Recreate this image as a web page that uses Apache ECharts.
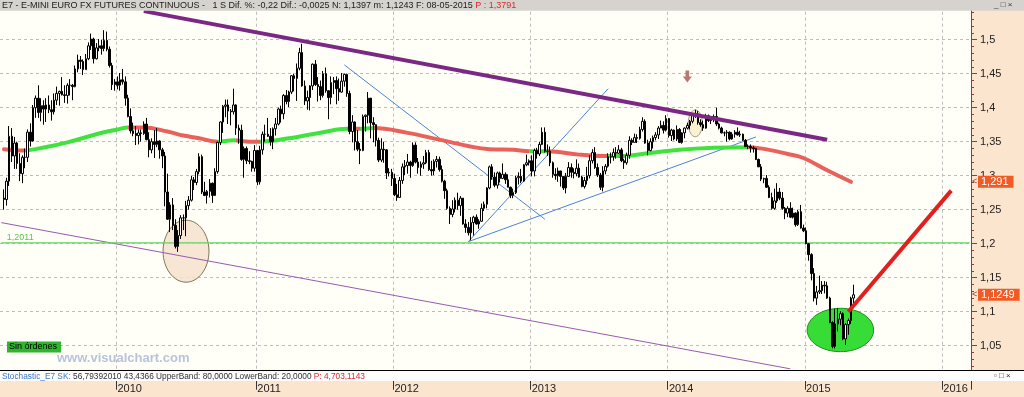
<!DOCTYPE html>
<html><head><meta charset="utf-8">
<script src="https://cdn.jsdelivr.net/npm/echarts/dist/echarts.min.js"></script>
<style>html,body{margin:0;padding:0;background:#fff}#c{width:1024px;height:397px}</style>
</head><body><div id="c"></div>
<script>
// ---- categories (weekly bars, Friday dates) ----
const startWeek = '2009-02-27';
const weekCount = 368;
const firstCandleDate = '2009-03-06';
const yearLabels = ['2010','2011','2012','2013','2014','2015','2016'];

// ---- weekly candles [open, close, low, high] ----
const candles2009 = [
[1.267,1.265,1.250,1.280],[1.265,1.292,1.256,1.297],[1.292,1.358,1.285,1.373],[1.358,1.329,1.320,1.370],
[1.329,1.348,1.310,1.357],[1.348,1.318,1.310,1.350],[1.318,1.303,1.292,1.333],[1.303,1.327,1.289,1.330],
[1.327,1.327,1.311,1.340],[1.327,1.364,1.320,1.368],[1.364,1.351,1.343,1.377],[1.351,1.400,1.350,1.404],[1.400,1.414,1.385,1.418],
[1.414,1.393,1.385,1.433],[1.393,1.403,1.380,1.414],[1.403,1.398,1.375,1.411],[1.398,1.404,1.379,1.414],
[1.404,1.397,1.392,1.418],[1.397,1.394,1.381,1.411],[1.394,1.411,1.390,1.421],[1.411,1.421,1.404,1.431],[1.421,1.424,1.403,1.425],
[1.424,1.419,1.418,1.445],[1.419,1.418,1.407,1.433],[1.418,1.433,1.406,1.436],[1.433,1.433,1.418,1.442],
[1.433,1.431,1.411,1.435],[1.431,1.457,1.430,1.462],[1.457,1.470,1.452,1.478],[1.470,1.468,1.457,1.476],
[1.468,1.456,1.448,1.471],[1.456,1.472,1.456,1.479],[1.472,1.491,1.470,1.496],[1.491,1.501,1.485,1.509],[1.501,1.472,1.465,1.503],
[1.472,1.488,1.471,1.495],[1.488,1.491,1.483,1.501],[1.491,1.487,1.478,1.500],[1.487,1.499,1.483,1.514],
[1.499,1.486,1.483,1.512],[1.486,1.462,1.459,1.490],[1.462,1.434,1.426,1.466],[1.434,1.438,1.425,1.442]
];
const candles2010 = [
[1.438,1.433,1.427,1.446],[1.433,1.441,1.425,1.451],[1.441,1.438,1.434,1.457],[1.438,1.414,1.403,1.446],[1.414,1.387,1.386,1.419],
[1.387,1.366,1.362,1.399],[1.366,1.362,1.358,1.378],[1.362,1.359,1.345,1.373],[1.359,1.363,1.346,1.368],
[1.363,1.362,1.350,1.368],[1.362,1.376,1.360,1.380],[1.376,1.353,1.352,1.385],[1.353,1.338,1.327,1.364],
[1.338,1.350,1.333,1.355],[1.350,1.346,1.326,1.367],[1.346,1.351,1.342,1.370],[1.351,1.338,1.325,1.352],[1.338,1.329,1.311,1.341],
[1.329,1.276,1.255,1.335],[1.276,1.236,1.235,1.303],[1.236,1.257,1.217,1.261],[1.257,1.227,1.220,1.267],
[1.227,1.196,1.193,1.236],[1.196,1.212,1.188,1.220],[1.212,1.238,1.207,1.242],[1.238,1.238,1.220,1.243],
[1.238,1.256,1.211,1.263],[1.256,1.264,1.250,1.270],[1.264,1.294,1.262,1.300],[1.294,1.290,1.279,1.298],[1.290,1.306,1.286,1.310],
[1.306,1.328,1.302,1.333],[1.328,1.276,1.273,1.331],[1.276,1.271,1.270,1.291],[1.271,1.277,1.259,1.279],
[1.277,1.289,1.268,1.295],[1.289,1.271,1.260,1.290],[1.271,1.306,1.270,1.311],[1.306,1.349,1.303,1.350],
[1.349,1.379,1.345,1.380],[1.379,1.402,1.363,1.404],[1.402,1.404,1.386,1.412],[1.404,1.395,1.376,1.412],[1.395,1.394,1.374,1.398],
[1.394,1.404,1.390,1.428],[1.404,1.370,1.360,1.405],[1.370,1.367,1.347,1.375],[1.367,1.324,1.322,1.375],
[1.324,1.340,1.297,1.343],[1.340,1.322,1.317,1.343],[1.322,1.321,1.317,1.336],[1.321,1.311,1.306,1.322],[1.311,1.337,1.306,1.345]
];
const candles2011 = [
[1.337,1.291,1.286,1.338],[1.291,1.338,1.287,1.344],[1.338,1.361,1.331,1.365],[1.361,1.361,1.350,1.375],
[1.361,1.358,1.357,1.385],[1.358,1.350,1.344,1.370],[1.350,1.369,1.339,1.371],[1.369,1.376,1.359,1.385],
[1.376,1.398,1.374,1.400],[1.398,1.391,1.378,1.403],[1.391,1.418,1.383,1.420],[1.418,1.409,1.405,1.426],
[1.409,1.423,1.401,1.425],[1.423,1.447,1.420,1.448],[1.447,1.443,1.424,1.450],[1.443,1.458,1.410,1.465],[1.458,1.481,1.455,1.488],
[1.481,1.432,1.431,1.494],[1.432,1.410,1.404,1.440],[1.410,1.415,1.397,1.425],[1.415,1.432,1.396,1.433],
[1.432,1.464,1.426,1.465],[1.464,1.434,1.432,1.470],[1.434,1.431,1.409,1.445],[1.431,1.418,1.411,1.440],
[1.418,1.450,1.415,1.454],[1.450,1.425,1.422,1.459],[1.425,1.415,1.383,1.424],[1.415,1.437,1.405,1.446],[1.437,1.440,1.420,1.445],
[1.440,1.428,1.405,1.446],[1.428,1.423,1.410,1.443],[1.423,1.439,1.422,1.451],[1.439,1.449,1.431,1.450],
[1.449,1.421,1.416,1.450],[1.421,1.365,1.361,1.425],[1.365,1.379,1.349,1.389],[1.379,1.350,1.337,1.380],[1.350,1.339,1.336,1.367],
[1.339,1.337,1.317,1.348],[1.337,1.387,1.336,1.390],[1.387,1.389,1.365,1.390],[1.389,1.414,1.377,1.423],
[1.414,1.378,1.355,1.399],[1.378,1.375,1.349,1.386],[1.375,1.352,1.343,1.370],[1.352,1.323,1.320,1.356],
[1.323,1.339,1.320,1.355],[1.339,1.338,1.319,1.350],[1.338,1.304,1.295,1.339],[1.304,1.305,1.299,1.311],[1.305,1.296,1.285,1.310]
];
const candles2012 = [
[1.296,1.272,1.270,1.303],[1.272,1.268,1.263,1.288],[1.268,1.293,1.268,1.298],[1.293,1.313,1.288,1.318],
[1.313,1.315,1.301,1.323],[1.315,1.320,1.303,1.332],[1.320,1.315,1.297,1.322],[1.315,1.345,1.313,1.349],
[1.345,1.320,1.318,1.349],[1.320,1.312,1.303,1.326],[1.312,1.317,1.300,1.321],[1.317,1.319,1.310,1.329],[1.319,1.334,1.317,1.338],
[1.334,1.309,1.307,1.338],[1.309,1.307,1.300,1.322],[1.307,1.321,1.301,1.324],[1.321,1.324,1.312,1.329],
[1.324,1.309,1.306,1.328],[1.309,1.292,1.290,1.315],[1.292,1.278,1.266,1.294],[1.278,1.252,1.250,1.281],
[1.252,1.243,1.229,1.255],[1.243,1.251,1.239,1.264],[1.251,1.264,1.246,1.268],[1.264,1.256,1.250,1.275],[1.256,1.267,1.241,1.270],
[1.267,1.229,1.228,1.267],[1.229,1.224,1.216,1.236],[1.224,1.216,1.212,1.232],[1.216,1.231,1.205,1.239],
[1.231,1.239,1.212,1.241],[1.239,1.229,1.228,1.243],[1.229,1.233,1.222,1.236],[1.233,1.252,1.232,1.259],[1.252,1.258,1.248,1.262],
[1.258,1.282,1.252,1.283],[1.282,1.313,1.280,1.315],[1.313,1.298,1.294,1.317],[1.298,1.286,1.283,1.305],
[1.286,1.304,1.281,1.306],[1.304,1.296,1.290,1.306],[1.296,1.302,1.295,1.318],[1.302,1.294,1.288,1.305],
[1.294,1.283,1.283,1.302],[1.283,1.271,1.267,1.284],[1.271,1.275,1.267,1.281],[1.275,1.297,1.273,1.300],[1.297,1.299,1.287,1.305],
[1.299,1.292,1.289,1.310],[1.292,1.316,1.291,1.317],[1.316,1.319,1.314,1.331],[1.319,1.322,1.315,1.324]
];
const candles2013 = [
[1.322,1.307,1.299,1.330],[1.307,1.337,1.299,1.340],[1.337,1.332,1.325,1.341],[1.332,1.346,1.329,1.350],
[1.346,1.364,1.345,1.371],[1.364,1.336,1.334,1.371],[1.336,1.336,1.329,1.346],[1.336,1.319,1.314,1.343],
[1.319,1.302,1.297,1.321],[1.302,1.300,1.294,1.311],[1.300,1.307,1.291,1.312],[1.307,1.299,1.284,1.305],[1.299,1.282,1.279,1.299],
[1.282,1.299,1.274,1.304],[1.299,1.312,1.299,1.320],[1.312,1.305,1.297,1.318],[1.305,1.303,1.296,1.311],
[1.303,1.311,1.299,1.324],[1.311,1.298,1.297,1.318],[1.298,1.284,1.283,1.300],[1.284,1.293,1.281,1.298],[1.293,1.300,1.287,1.313],
[1.300,1.322,1.296,1.330],[1.322,1.334,1.318,1.339],[1.334,1.312,1.310,1.342],[1.312,1.301,1.298,1.318],
[1.301,1.283,1.279,1.304],[1.283,1.307,1.277,1.314],[1.307,1.314,1.302,1.317],[1.314,1.328,1.312,1.333],
[1.328,1.328,1.318,1.334],[1.328,1.334,1.322,1.340],[1.334,1.333,1.325,1.342],[1.333,1.338,1.332,1.345],[1.338,1.322,1.320,1.341],
[1.322,1.319,1.310,1.325],[1.319,1.330,1.316,1.334],[1.330,1.352,1.325,1.358],[1.352,1.349,1.345,1.355],
[1.349,1.356,1.349,1.362],[1.356,1.355,1.348,1.361],[1.355,1.368,1.353,1.372],[1.368,1.380,1.365,1.386],
[1.380,1.348,1.347,1.383],[1.348,1.337,1.330,1.353],[1.337,1.350,1.336,1.355],[1.350,1.356,1.340,1.359],[1.356,1.360,1.352,1.364],
[1.360,1.370,1.354,1.373],[1.370,1.374,1.370,1.381],[1.374,1.367,1.362,1.380],[1.367,1.384,1.365,1.389]
];
const candles2014 = [
[1.384,1.359,1.356,1.385],[1.359,1.367,1.351,1.369],[1.367,1.354,1.352,1.368],[1.354,1.368,1.351,1.374],[1.368,1.349,1.348,1.370],
[1.349,1.363,1.347,1.364],[1.363,1.370,1.355,1.371],[1.370,1.374,1.368,1.378],[1.374,1.380,1.368,1.382],
[1.380,1.391,1.377,1.392],[1.391,1.391,1.385,1.397],[1.391,1.378,1.375,1.395],[1.378,1.375,1.372,1.383],
[1.375,1.370,1.366,1.381],[1.370,1.388,1.369,1.391],[1.388,1.381,1.379,1.390],[1.381,1.383,1.376,1.387],
[1.383,1.387,1.379,1.390],[1.387,1.376,1.373,1.400],[1.376,1.370,1.368,1.378],[1.370,1.363,1.362,1.372],[1.363,1.363,1.358,1.365],
[1.363,1.364,1.350,1.367],[1.364,1.354,1.352,1.365],[1.354,1.361,1.353,1.364],[1.361,1.364,1.356,1.367],
[1.364,1.360,1.359,1.371],[1.360,1.361,1.357,1.366],[1.361,1.352,1.351,1.362],[1.352,1.343,1.342,1.354],
[1.343,1.343,1.339,1.346],[1.343,1.341,1.334,1.346],[1.341,1.340,1.334,1.344],[1.340,1.324,1.323,1.341],[1.324,1.313,1.313,1.325],
[1.313,1.295,1.292,1.317],[1.295,1.296,1.289,1.297],[1.296,1.283,1.282,1.301],[1.283,1.268,1.267,1.286],
[1.268,1.252,1.250,1.275],[1.252,1.263,1.250,1.281],[1.263,1.276,1.260,1.289],[1.276,1.267,1.264,1.282],[1.267,1.252,1.250,1.276],
[1.252,1.245,1.236,1.254],[1.245,1.252,1.239,1.255],[1.252,1.239,1.238,1.261],[1.239,1.245,1.237,1.253],
[1.245,1.228,1.225,1.246],[1.228,1.247,1.226,1.250],[1.247,1.223,1.222,1.257],[1.223,1.219,1.217,1.228]
];
const candles2015 = [
[1.219,1.200,1.199,1.224],[1.200,1.184,1.175,1.201],[1.184,1.156,1.146,1.186],[1.156,1.120,1.115,1.164],[1.120,1.129,1.110,1.138],
[1.129,1.131,1.126,1.153],[1.131,1.139,1.126,1.145],[1.139,1.138,1.127,1.145],[1.138,1.120,1.119,1.144],
[1.120,1.084,1.083,1.122],[1.084,1.049,1.046,1.086],[1.049,1.082,1.046,1.104],[1.082,1.089,1.071,1.105],
[1.089,1.097,1.080,1.101],[1.097,1.060,1.058,1.099],[1.060,1.081,1.051,1.083],[1.081,1.087,1.066,1.090],
[1.087,1.120,1.082,1.122],[1.120,1.1249,1.108,1.1397]
];

// ---- moving average trace [week index, value] and its up/down colour breaks ----
const maPoints = [
[1,1.339],[8,1.337],[18,1.343],[25,1.349],[37,1.362],[44,1.368],[48,1.371],[54,1.371],[63,1.365],[69,1.359],
[75,1.355],[82,1.350],[88,1.352],[94,1.350],[98,1.350],[109,1.355],[122,1.364],[131,1.369],[136,1.369],[141,1.370],
[154,1.363],[166,1.353],[179,1.342],[185,1.339],[194,1.338],[200,1.336],[207,1.336],[219,1.331],[229,1.329],[236,1.329],
[245,1.333],[257,1.338],[270,1.341],[283,1.342],[291,1.338],[298,1.332],[304,1.326],[313,1.308],[322,1.291]
];
const maTrendBreaks = [8.5,48,82,89.3,98,131,136,141,200.4,207,230,234,236,283];

// ---- drawn annotations (data coordinates: week index, price) ----
const levelLine = 1.2011;
const levelSpan = [0, 367];
const upperTrend = [[54,1.542],[313,1.353]];
const lowerTrend = [[0,1.231],[299,1.016]];
const blueLines = [
  [[130,1.463],[206,1.236]],
  [[177,1.203],[230,1.428]],
  [[177,1.203],[286,1.357]]
];
const targetLine = [[321,1.100],[360,1.278]];
// [centre index, centre price, x radius in weeks, y radius in price, kind]
const ellipses = [
  [69.6,1.189,8.7,0.0456,'peach'],
  [262.9,1.377,2.65,0.0198,'light'],
  [317.8,1.0731,12.6,0.0319,'green']
];
const arrowMark = [[260,1.446]];

// ---------------------------------------------------------------
const categories = [];
for (let i = 0; i < weekCount; i++) {
  const d = new Date(Date.UTC(2009, 1, 27 + 7 * i));
  categories.push(d.toISOString().slice(0, 10));
}
const candleData = categories.map(() => '-');
const blocks = [[firstCandleDate, candles2009],['2010-01-01', candles2010],['2011-01-01', candles2011],
  ['2012-01-01', candles2012],['2013-01-01', candles2013],['2014-01-01', candles2014],['2015-01-01', candles2015]];
blocks.forEach(([d0, rows]) => {
  const s = categories.findIndex(c => c >= d0);
  rows.forEach((r, k) => { candleData[s + k] = r; });
});
const lastCandle = candles2015[candles2015.length - 1];

const isYearStart = (idx, val) => {
  if (idx === 0) return false;
  const y = String(val).slice(0, 4);
  return y !== categories[idx - 1].slice(0, 4) && yearLabels.indexOf(y) >= 0;
};

const RED = '#e8625b', GREEN = '#3fe23f';
const maPieces = [];
let prev = null;
maTrendBreaks.concat([100000]).forEach((b, k) => {
  const p = { lt: b, color: k % 2 === 0 ? RED : GREEN };
  if (prev !== null) p.gte = prev;
  maPieces.push(p);
  prev = b;
});

const ellipseStyles = {
  peach: { fill: 'rgba(246,226,204,0.85)', stroke: '#7d7658', lineWidth: 1 },
  light: { fill: 'rgba(250,240,205,0.9)', stroke: '#9a9a8a', lineWidth: 1 },
  green: { fill: '#37dc37', stroke: '#1b8f1b', lineWidth: 1 }
};

const NARROW = '"Liberation Sans Narrow", "Liberation Sans", Arial, sans-serif';
const SANS = '"Liberation Sans", Arial, sans-serif';

const lineSeries = (data, color, width, z) => ({
  type: 'line', data: data, symbol: 'none', silent: true, z: z, animation: false,
  lineStyle: { color: color, width: width }
});

const levelData = levelSpan.map(i => [i, levelLine]);

const chart = echarts.init(document.getElementById('c'), null, { renderer: 'canvas' });
const option = {
  animation: false,
  backgroundColor: '#ffffff',
  grid: { left: 0, right: 53, top: 5.7, bottom: 17.3, containLabel: false, outerBoundsMode: 'none',
          show: true, backgroundColor: '#fffff8', borderWidth: 0 },
  xAxis: {
    type: 'category', data: categories, boundaryGap: true,
    axisLine: { show: false },
    axisTick: { show: true, interval: isYearStart, length: 10, lineStyle: { color: '#333', width: 1 } },
    axisLabel: { show: true, interval: isYearStart, formatter: v => v.slice(0, 4), align: 'left',
                 margin: 4, fontSize: 11, fontFamily: NARROW, color: '#222' },
    splitLine: { show: true, interval: isYearStart, lineStyle: { color: '#bdbdbd', type: [3, 3], width: 1 } }
  },
  yAxis: {
    type: 'value', position: 'right', min: 1.0, max: 1.55, interval: 0.05, scale: true,
    axisLine: { show: true, lineStyle: { color: '#8e3e36', width: 1 } },
    axisTick: { show: true, length: 6, lineStyle: { color: '#8e3e36' } },
    minorTick: { show: true, splitNumber: 5, length: 3, lineStyle: { color: '#8e3e36' } },
    axisLabel: { margin: 9, fontSize: 11, fontFamily: NARROW, color: '#222',
                 formatter: v => (v < 1.04 || v > 1.51) ? '' : String(+v.toFixed(2)).replace('.', ',') },
    splitLine: { show: true, lineStyle: { color: '#bdbdbd', type: [3, 3], width: 1 } }
  },
  visualMap: [{ type: 'piecewise', show: false, dimension: 0, seriesIndex: 5, pieces: maPieces }],
  series: [
    {
      type: 'custom', z: 1, silent: true, data: ellipses.map(e => e.slice(0, 4)),
      renderItem: (params, api) => {
        const c = api.coord([api.value(0), api.value(1)]);
        const bw = api.size([1, 0])[0];
        const ry = api.size([0, api.value(3)])[1];
        const kind = ellipses[params.dataIndex][4];
        return { type: 'ellipse', shape: { cx: c[0], cy: c[1], rx: bw * api.value(2), ry: ry },
                 style: ellipseStyles[kind] };
      }
    },
    lineSeries(lowerTrend, '#9a5aae', 1, 2),
    lineSeries(blueLines[0], '#4a84d6', 1, 2),
    lineSeries(blueLines[1], '#4a84d6', 1, 2),
    lineSeries(blueLines[2], '#4a84d6', 1, 2),
    { type: 'line', data: maPoints, symbol: 'none', smooth: 0.4, silent: true, z: 3,
      lineStyle: { width: 4, cap: 'round' } },
    {
      type: 'candlestick', data: candleData, z: 4, barWidth: 2, silent: true,
      itemStyle: { color: '#ffffff', color0: '#000000', borderColor: '#000000', borderColor0: '#000000', borderWidth: 1 }
    },
    lineSeries(upperTrend, '#7a2884', 4, 5),
    lineSeries(targetLine, '#e21f1f', 4, 5),
    { type: 'scatter', data: arrowMark, z: 5, silent: true,
      symbol: 'path://M3,0 L7,0 L7,6 L10,6 L5,12 L0,6 L3,6 Z', symbolSize: [9, 12],
      itemStyle: { color: '#a4574f' } },
    {
      type: 'line', data: levelData, symbol: 'none', silent: true, z: 3,
      lineStyle: { color: '#5fd35f', width: 1.3 },
      markPoint: {
        silent: true, symbol: 'rect', symbolSize: 1, itemStyle: { color: 'rgba(0,0,0,0)' },
        data: [{ coord: [levelSpan[0], levelLine] }],
        label: { show: true, position: [6, -9], formatter: String(levelLine).replace('.', ','),
                 color: '#55c855', fontSize: 9, fontFamily: SANS }
      }
    }
  ]
};
chart.setOption(option);

const fmt = v => String(v).replace('.', ',');
const maLast = maPoints[maPoints.length - 1][1];
const yMa = chart.convertToPixel({ yAxisIndex: 0 }, maLast);
const yLast = chart.convertToPixel({ yAxisIndex: 0 }, lastCandle[1]);

const priceBox = (id, y, txt) => ([
  { type: 'text', id: id + 'a', z: 60, x: 972, y: y, style: { text: '<', fill: '#8e3e36', font: '9px ' + SANS, verticalAlign: 'middle' } },
  { type: 'text', id: id, z: 60, x: 978, y: y, style: { text: txt, fill: '#ffffff', font: '11px ' + NARROW,
      backgroundColor: '#f05a24', padding: [1, 5, 0, 3], verticalAlign: 'middle' } }
]);

chart.setOption({
  graphic: { elements: [
    { type: 'rect', id: 'rpanel', z: -10, shape: { x: 971, y: 10, width: 53, height: 360 }, style: { fill: '#fce5cf' } },
    { type: 'rect', id: 'xpanel', z: -10, shape: { x: 0, y: 381, width: 1024, height: 16 }, style: { fill: '#fce5cf' } },
    { type: 'rect', id: 'header', z: 50, shape: { x: 0, y: 0, width: 1024, height: 10.7 }, style: { fill: '#d6d3ce' } },
    { type: 'text', id: 'htext', z: 51, x: 2, y: 1, style: {
        text: '{a|E7 - E-MINI EURO FX FUTURES CONTINUOUS -   1 S Dif. %: -0,22 Dif.: -0,0025 N: 1,1397 m: 1,1243 F: 08-05-2015 }{b|P : 1,3791}',
        font: '9px ' + SANS, verticalAlign: 'top',
        rich: { a: { fill: '#202020', fontSize: 9, fontFamily: SANS }, b: { fill: '#e02828', fontSize: 9, fontFamily: SANS } } } },
    { type: 'text', id: 'hbtn', z: 51, x: 994, y: 1, style: { text: '_ □ ×', fill: '#333', font: '8px ' + SANS, verticalAlign: 'top' } },
    { type: 'rect', id: 'srow', z: 50, shape: { x: 0, y: 370, width: 1024, height: 11 }, style: { fill: '#fdfdfd' } },
    { type: 'line', id: 'sline', z: 51, shape: { x1: 0, y1: 370.5, x2: 1024, y2: 370.5 }, style: { stroke: '#000', lineWidth: 1 } },
    { type: 'text', id: 'stext', z: 51, x: 2, y: 372.3, style: {
        text: '{b|Stochastic_E7 SK:} {a|56,79392010 43,4366 UpperBand: 80,0000 LowerBand: 20,0000} {r|P: 4,703,1143}',
        font: '8.3px ' + SANS, verticalAlign: 'top',
        rich: { a: { fill: '#303030', fontSize: 8.3, fontFamily: SANS }, b: { fill: '#3a78c4', fontSize: 8.3, fontFamily: SANS },
                r: { fill: '#e02828', fontSize: 8.3, fontFamily: SANS } } } },
    { type: 'text', id: 'sbtn', z: 51, x: 994, y: 372, style: { text: '▫ □ ×', fill: '#333', font: '8px ' + SANS, verticalAlign: 'top' } },
    { type: 'text', id: 'wm', z: 40, x: 57, y: 352, style: { text: 'www.visualchart.com', fill: '#b9c3dc', font: 'bold 13px ' + SANS, verticalAlign: 'top' } },
    { type: 'text', id: 'sin', z: 41, x: 7, y: 341.5, style: { text: 'Sin órdenes', fill: '#000', font: '9px ' + SANS,
        backgroundColor: '#2fb52f', padding: [1, 4, 1, 2], verticalAlign: 'top' } },
    ...priceBox('pma', yMa, fmt(maLast)),
    ...priceBox('plast', yLast, fmt(lastCandle[1]))
  ] }
});
</script></body></html>
